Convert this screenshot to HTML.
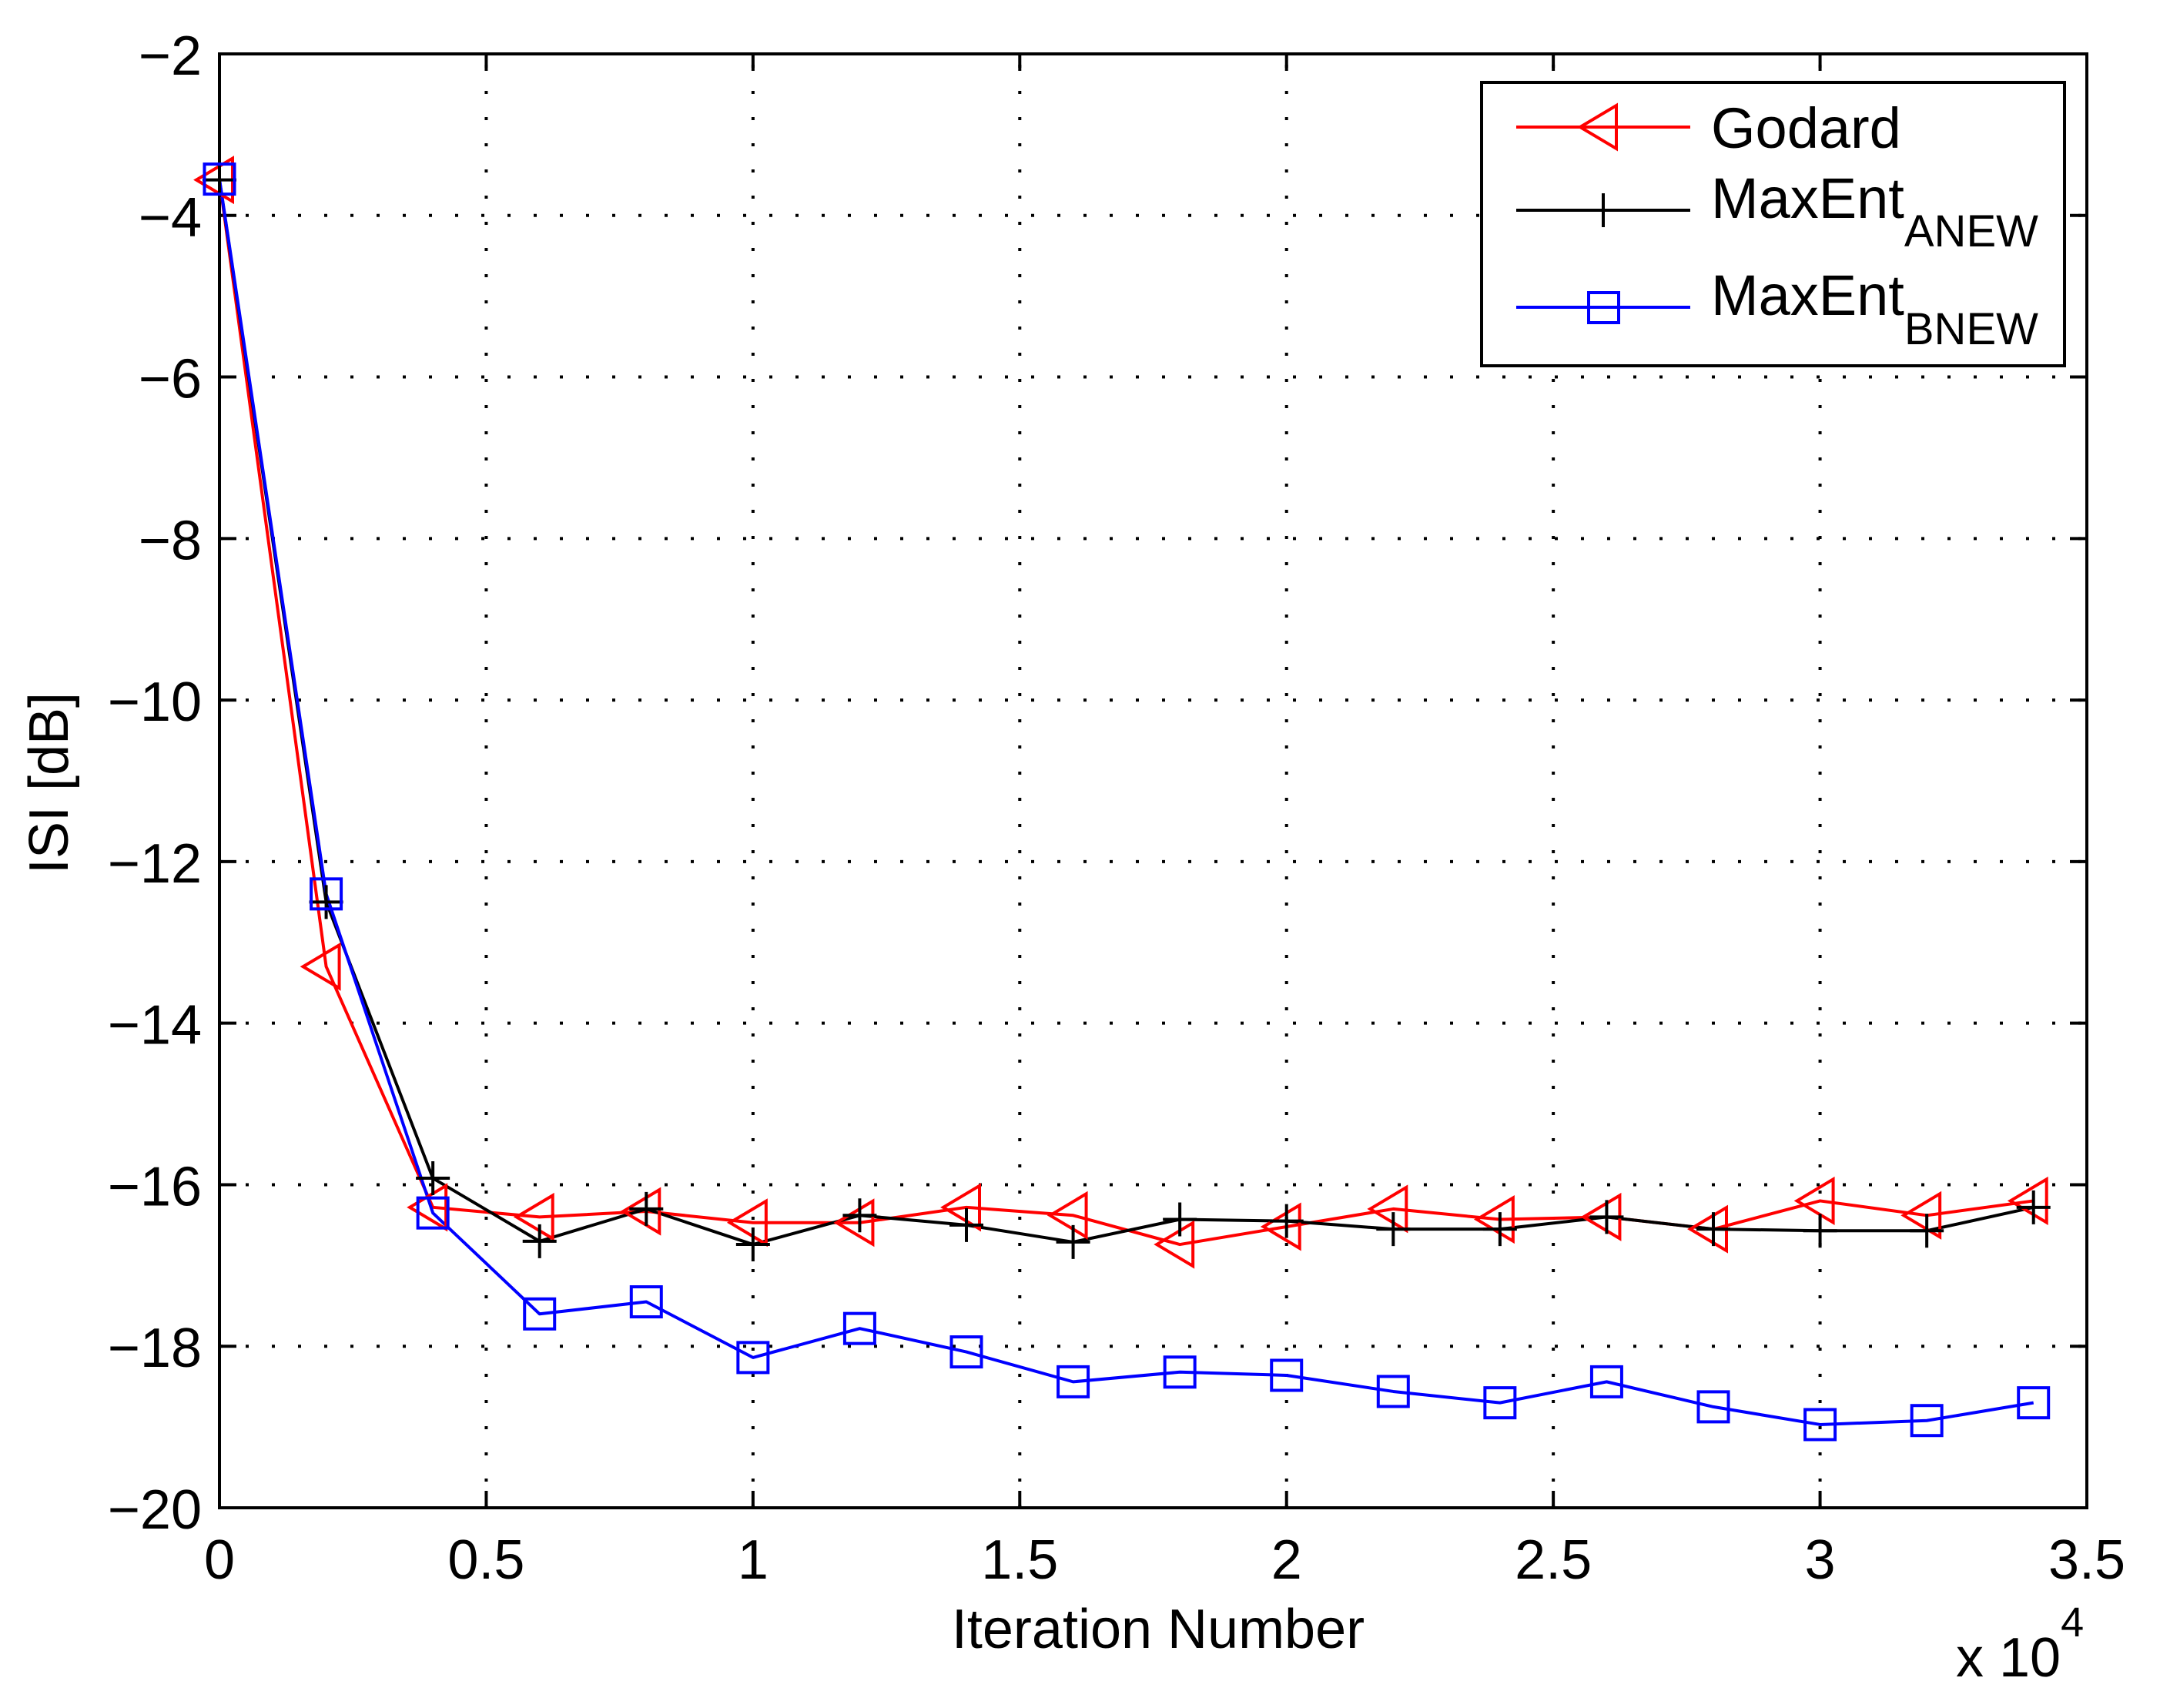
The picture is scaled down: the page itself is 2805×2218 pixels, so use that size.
<!DOCTYPE html>
<html><head><meta charset="utf-8"><style>
html,body{margin:0;padding:0;background:#fff;}
svg{display:block;font-family:"Liberation Sans",sans-serif;}
</style></head><body>
<svg id="chart" width="2805" height="2218" viewBox="0 0 2805 2218" xmlns="http://www.w3.org/2000/svg">
<rect x="0" y="0" width="2805" height="2218" fill="#fff"/>
<g id="grid"></g>
<g id="axes"></g>
<g id="series"></g>
<text x="1504" y="2140" font-size="72" text-anchor="middle">Iteration Number</text>
<text x="2540" y="2177" font-size="72">x 10<tspan font-size="54" dy="-52">4</tspan></text>
<text transform="translate(88,1017) rotate(-90)" font-size="72" text-anchor="middle">ISI [dB]</text>
<g>
<rect x="1924" y="107" width="757" height="368" fill="#fff" stroke="#000" stroke-width="4"/>
<g>
<line x1="1969" y1="165" x2="2195" y2="165" stroke="#f00" stroke-width="4"/>
<polygon points="2052,165 2099,137 2099,193" fill="none" stroke="#f00" stroke-width="4"/>
<text x="2222" y="192" font-size="74">Godard</text>
</g>
<g>
<line x1="1969" y1="273" x2="2195" y2="273" stroke="#000" stroke-width="4"/>
<line x1="2082" y1="251" x2="2082" y2="295" stroke="#000" stroke-width="4"/>
<text x="2222" y="283" font-size="74">MaxEnt<tspan font-size="58" dy="37">ANEW</tspan></text>
</g>
<g>
<line x1="1969" y1="399" x2="2195" y2="399" stroke="#00f" stroke-width="4"/>
<rect x="2063" y="380" width="39" height="39" fill="none" stroke="#00f" stroke-width="4"/>
<text x="2222" y="409" font-size="74">MaxEnt<tspan font-size="58" dy="38">BNEW</tspan></text>
</g>
</g>
</svg>
<script>
const iterations = [0,2000,4000,6000,8000,10000,12000,14000,16000,18000,20000,22000,24000,26000,28000,30000,32000,34000];
const godard = [-3.56,-13.3,-16.28,-16.4,-16.33,-16.47,-16.47,-16.28,-16.38,-16.74,-16.52,-16.3,-16.43,-16.4,-16.55,-16.2,-16.38,-16.2];
const maxEntA = [-3.56,-12.5,-15.92,-16.7,-16.3,-16.74,-16.38,-16.5,-16.71,-16.43,-16.45,-16.55,-16.55,-16.4,-16.55,-16.57,-16.57,-16.28];
const maxEntB = [-3.55,-12.4,-16.35,-17.6,-17.45,-18.14,-17.78,-18.07,-18.44,-18.32,-18.36,-18.56,-18.7,-18.44,-18.75,-18.97,-18.92,-18.7];
const xTicks = [0,0.5,1,1.5,2,2.5,3,3.5];
const xTickLabels = ["0","0.5","1","1.5","2","2.5","3","3.5"];
const yTicks = [-2,-4,-6,-8,-10,-12,-14,-16,-18,-20];
const yTickLabels = ["\u22122","\u22124","\u22126","\u22128","\u221210","\u221212","\u221214","\u221216","\u221218","\u221220"];

const L=285,R=2710,T=70,B=1958;
const xMin=0,xMax=35000,yMin=-20,yMax=-2;
function xs(v){return L+(v-xMin)/(xMax-xMin)*(R-L);}
function ys(v){return T+(yMax-v)/(yMax-yMin)*(B-T);}
const NS="http://www.w3.org/2000/svg";
function mk(tag,attrs,parent){const e=document.createElementNS(NS,tag);for(const k in attrs)e.setAttribute(k,attrs[k]);parent.appendChild(e);return e;}
const grid=document.getElementById('grid'),axes=document.getElementById('axes'),ser=document.getElementById('series');

xTicks.forEach((t,i)=>{
  const x=xs(t*10000);
  if(i>0&&i<xTicks.length-1){
    const g=mk('line',{x1:x,y1:B,x2:x,y2:T,stroke:'#000','stroke-width':4,'stroke-dasharray':'4 30'},grid);
    
    
  }
  mk('line',{x1:x,y1:B,x2:x,y2:B-22,stroke:'#000','stroke-width':4},axes);
  mk('line',{x1:x,y1:T,x2:x,y2:T+22,stroke:'#000','stroke-width':4},axes);
  const tx=mk('text',{x:x,y:2050,'font-size':72,'text-anchor':'middle'},axes);
  tx.textContent=xTickLabels[i];
  
  
});
yTicks.forEach((t,i)=>{
  const y=ys(t);
  if(i>0&&i<yTicks.length-1){
    const g=mk('line',{x1:L,y1:y,x2:R,y2:y,stroke:'#000','stroke-width':4,'stroke-dasharray':'4 30'},grid);
    
    
  }
  mk('line',{x1:L,y1:y,x2:L+22,y2:y,stroke:'#000','stroke-width':4},axes);
  mk('line',{x1:R,y1:y,x2:R-22,y2:y,stroke:'#000','stroke-width':4},axes);
  const tx=mk('text',{x:262,y:y+27,'font-size':72,'text-anchor':'end'},axes);
  tx.textContent=yTickLabels[i];
  
  
});
const frame=mk('rect',{x:L,y:T,width:R-L,height:B-T,fill:'none',stroke:'#000','stroke-width':4},axes);



function line(vals,color,name){
  const pts=vals.map((v,i)=>xs(iterations[i])+','+ys(v)).join(' ');
  const p=mk('polyline',{points:pts,fill:'none',stroke:color,'stroke-width':4,'stroke-linejoin':'round'},ser);
  
  
}
line(godard,'#f00','godard-line');
line(maxEntA,'#000','maxent-anew-line');
line(maxEntB,'#00f','maxent-bnew-line');
godard.forEach((v,i)=>{
  const x=xs(iterations[i]),y=ys(v);
  const m=mk('polygon',{points:`${x-30},${y} ${x+17},${y-28} ${x+17},${y+28}`,fill:'none',stroke:'#f00','stroke-width':4},ser);
  
  
});
maxEntA.forEach((v,i)=>{
  const x=xs(iterations[i]),y=ys(v);
  const m=mk('path',{d:`M${x-22},${y}H${x+22}M${x},${y-22}V${y+22}`,stroke:'#000','stroke-width':4},ser);
  
  
});
maxEntB.forEach((v,i)=>{
  const x=xs(iterations[i]),y=ys(v);
  const m=mk('rect',{x:x-19.5,y:y-19.5,width:39,height:39,fill:'none',stroke:'#00f','stroke-width':4},ser);
  
  
});
</script>
</body></html>
